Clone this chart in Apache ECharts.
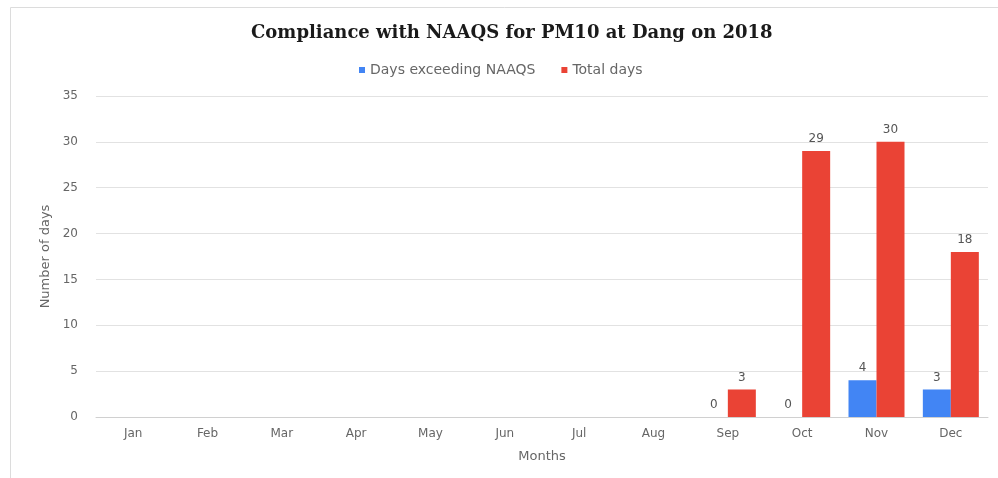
<!DOCTYPE html>
<html>
<head>
<meta charset="utf-8">
<script src="https://cdn.jsdelivr.net/npm/echarts@6/dist/echarts.min.js"></script>
<style>
html,body{margin:0;padding:0;background:#fff;}
#chart{width:998px;height:478px;}
</style>
</head>
<body>
<div id="chart"></div>
<script>
var months = ['Jan','Feb','Mar','Apr','May','Jun','Jul','Aug','Sep','Oct','Nov','Dec'];
var daysExceeding = [null,null,null,null,null,null,null,null,0,0,4,3];
var totalDays = [null,null,null,null,null,null,null,null,3,29,30,18];
var yTicks = [0,5,10,15,20,25,30,35];

var chart = echarts.init(document.getElementById('chart'), null, {renderer:'canvas'});
var FONT = 'DejaVu Sans';
var labelStyle = {show:true, position:'top', color:'#555', fontSize:12, fontFamily:FONT, distance:6};
chart.setOption({
  animation:false,
  backgroundColor:'#fff',
  graphic:[{type:'rect', shape:{x:10.5,y:7.5,width:1000,height:500}, style:{fill:'none', stroke:'#dcdcdc', lineWidth:1}, silent:true}],
  title:{text:'Compliance with NAAQS for PM10 at Dang on 2018', left:246, top:19,
    textStyle:{fontFamily:'DejaVu Serif', fontWeight:'bold', fontSize:18, color:'#1a1a1a'}},
  legend:{top:58, left:354, itemWidth:6, itemHeight:6, itemGap:26, icon:'rect',
    textStyle:{color:'#666', fontSize:14, fontFamily:FONT}},
  grid:{left:96, right:10, top:96, bottom:61, containLabel:false},
  xAxis:{type:'category', data:months, name:'Months', nameLocation:'middle', nameGap:33,
    nameTextStyle:{color:'#666', fontSize:13, fontFamily:FONT},
    axisLine:{lineStyle:{color:'#d0d0d0'}}, axisTick:{show:false},
    axisLabel:{color:'#666', fontSize:12, margin:11, fontFamily:FONT}},
  yAxis:{type:'value', min:yTicks[0], max:yTicks[yTicks.length-1], interval:5,
    name:'Number of days', nameLocation:'middle', nameGap:44,
    nameTextStyle:{color:'#666', fontSize:13, fontFamily:FONT},
    axisLine:{show:false}, axisTick:{show:false},
    axisLabel:{color:'#666', fontSize:12, margin:18, fontFamily:FONT},
    splitLine:{lineStyle:{color:'#e2e2e2'}}},
  series:[
    {name:'Days exceeding NAAQS', type:'bar', data:daysExceeding, barWidth:28, barGap:'0%',
      itemStyle:{color:'#4285f4'}, label:labelStyle},
    {name:'Total days', type:'bar', data:totalDays, barWidth:28, barGap:'0%',
      itemStyle:{color:'#ea4335'}, label:labelStyle}
  ]
});
</script>
</body>
</html>
